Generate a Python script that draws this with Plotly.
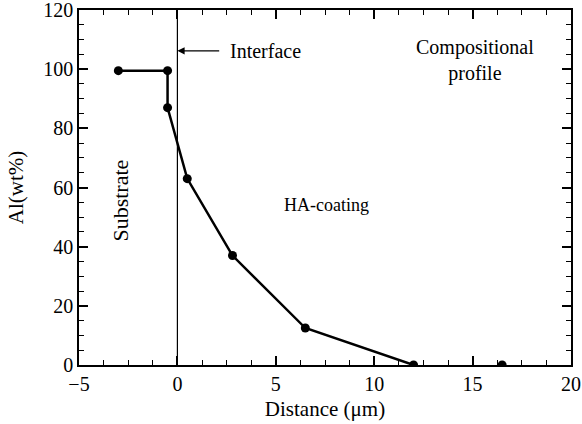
import plotly.graph_objects as go

# Data
dist_um = [-3, -0.5, -0.5, 0.5, 2.8, 6.5, 12]
al_wt = [99.5, 99.5, 87, 63, 37, 12.5, 0]
extra_dist = [16.5]
extra_al = [0]
interface_x = 0

FONT = "Liberation Serif"

fig = go.Figure()
fig.add_trace(go.Scatter(x=dist_um, y=al_wt, mode="lines+markers",
                         line=dict(color="black", width=2.5),
                         marker=dict(color="black", size=9),
                         showlegend=False))
fig.add_trace(go.Scatter(x=extra_dist, y=extra_al, mode="markers",
                         marker=dict(color="black", size=9),
                         showlegend=False))

fig.add_shape(type="line", x0=interface_x, x1=interface_x, y0=0, y1=120,
              xref="x", yref="y", line=dict(color="black", width=1.2))

fig.add_annotation(x=interface_x, y=106.2, ax=2.2, ay=106.2, axref="x", ayref="y",
                   xref="x", yref="y", text="", showarrow=True,
                   arrowhead=2, arrowsize=1.2, arrowwidth=1.2, arrowcolor="black")
fig.add_annotation(x=2.55, y=106.2, text="Interface", showarrow=False,
                   xanchor="left", font=dict(family=FONT, size=20, color="black"))
fig.add_annotation(x=15.1, y=103, text="Compositional<br>profile", showarrow=False,
                   font=dict(family=FONT, size=20, color="black"), align="center")
fig.add_annotation(x=7.6, y=54, text="HA-coating", showarrow=False,
                   font=dict(family=FONT, size=18, color="black"))
fig.add_annotation(x=-2.9, y=55.7, text="Substrate", showarrow=False, textangle=-90,
                   font=dict(family=FONT, size=22, color="black"))

for upd, rng, dt, mdt, ttl, sto in [(fig.update_xaxes, [-5, 20], 5, 1.25, "Distance (μm)", 8),
                                    (fig.update_yaxes, [0, 120], 20, 5, "Al(wt%)", 14)]:
    upd(range=rng, dtick=dt, showgrid=False, zeroline=False,
        showline=True, linecolor="black", linewidth=1.5, mirror="ticks",
        ticks="inside", ticklen=9, tickwidth=1.5, tickcolor="black",
        layer="above traces", automargin=False, ticklabeloverflow="allow",
        tickfont=dict(family=FONT, size=20, color="black"),
        title=dict(text=ttl, font=dict(family=FONT, size=21, color="black"), standoff=sto),
        minor=dict(dtick=mdt, ticks="inside", ticklen=5,
                   tickcolor="black", tickwidth=1.2, showgrid=False))

fig.update_layout(template="none", width=582, height=424,
                  margin=dict(l=79, r=11, t=10, b=59),
                  plot_bgcolor="white", paper_bgcolor="white", showlegend=False)

fig.write_html("out.html")
